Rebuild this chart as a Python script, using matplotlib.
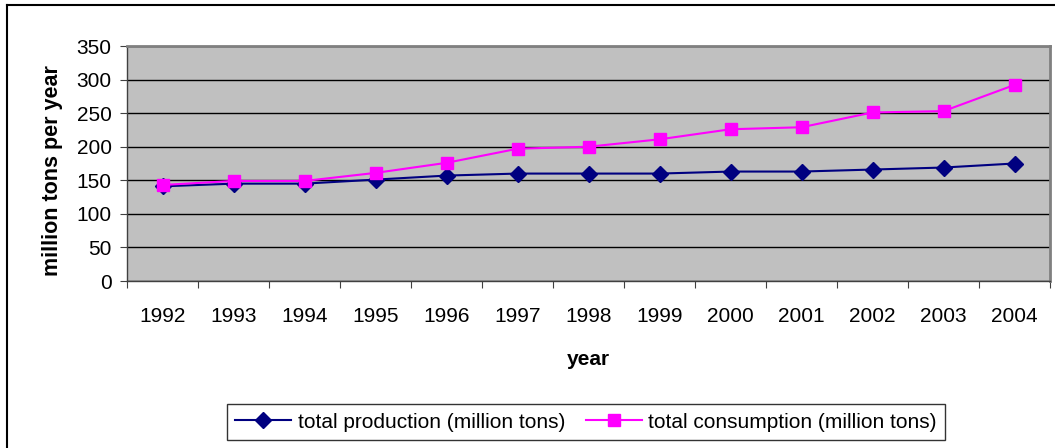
import matplotlib
matplotlib.use("Agg")
import matplotlib.pyplot as plt
from matplotlib.lines import Line2D
import numpy as np

plt.rcParams['font.family'] = ['Liberation Sans', 'DejaVu Sans']

years = ["1992", "1993", "1994", "1995", "1996", "1997", "1998",
         "1999", "2000", "2001", "2002", "2003", "2004"]
production = [141, 145, 145, 151, 157, 160, 160, 160, 163, 163, 166, 169, 175]
consumption = [143, 149, 149, 161, 176, 197, 200, 211, 226, 229, 251, 253, 292]
y_ticks = [0, 50, 100, 150, 200, 250, 300, 350]

W, H = 1055, 448
fig = plt.figure(figsize=(W / 100, H / 100), dpi=100)

# outer frame (top and left edges)
fig.add_artist(Line2D([7 / W, 7 / W], [0, 1 - 5 / H], transform=fig.transFigure,
                      color='black', lw=1.5))
fig.add_artist(Line2D([7 / W, 1], [1 - 5 / H, 1 - 5 / H], transform=fig.transFigure,
                      color='black', lw=1.5))

left, right, top, bottom = 127, 1050, 46, 281
ax = fig.add_axes([left / W, 1 - bottom / H, (right - left) / W, (bottom - top) / H])
ax.set_facecolor('#c0c0c0')

x = np.arange(len(years))
ax.plot(x, production, color='#000080', lw=1.5, marker='D', markersize=8,
        label='total production (million tons)')
ax.plot(x, consumption, color='#ff00ff', lw=1.5, marker='s', markersize=8.5,
        label='total consumption (million tons)')

ax.set_xlim(-0.5, len(years) - 0.5)
ax.set_ylim(0, 350)
ax.set_yticks(y_ticks)
ax.set_yticklabels([str(v) for v in y_ticks])
ax.yaxis.grid(True, color='black', lw=1)
ax.set_axisbelow(True)

# category labels centered, tick marks on the boundaries
ax.set_xticks(np.arange(len(years) + 1) - 0.5)
ax.set_xticklabels([])
ax.set_xticks(x, minor=True)
ax.set_xticklabels(years, minor=True)
ax.tick_params(axis='x', which='minor', length=0, labelsize=15, pad=19)
ax.tick_params(axis='x', which='major', length=5, color='#404040', direction='out')
ax.tick_params(axis='y', length=5, color='#404040', labelsize=15, pad=6)

for s in ['left', 'bottom']:
    ax.spines[s].set_color('#404040')
    ax.spines[s].set_linewidth(1)
for s in ['top', 'right']:
    ax.spines[s].set_color('#808080')
    ax.spines[s].set_linewidth(2)

ax.set_xlabel('year', fontsize=15, fontweight='bold', labelpad=17)
ax.set_ylabel('million tons per year', fontsize=15.5, fontweight='bold')
ax.yaxis.set_label_coords(-0.069, 0.472)

leg = fig.legend(loc='center', bbox_to_anchor=(586 / W, 1 - 422 / H), ncol=2,
                 fontsize=15, frameon=True, fancybox=False, edgecolor='black',
                 handlelength=2.7, handletextpad=0.3, columnspacing=1.0,
                 borderpad=0.4, borderaxespad=0)
leg.get_frame().set_linewidth(1)

fig.savefig('out.png', dpi=100)
